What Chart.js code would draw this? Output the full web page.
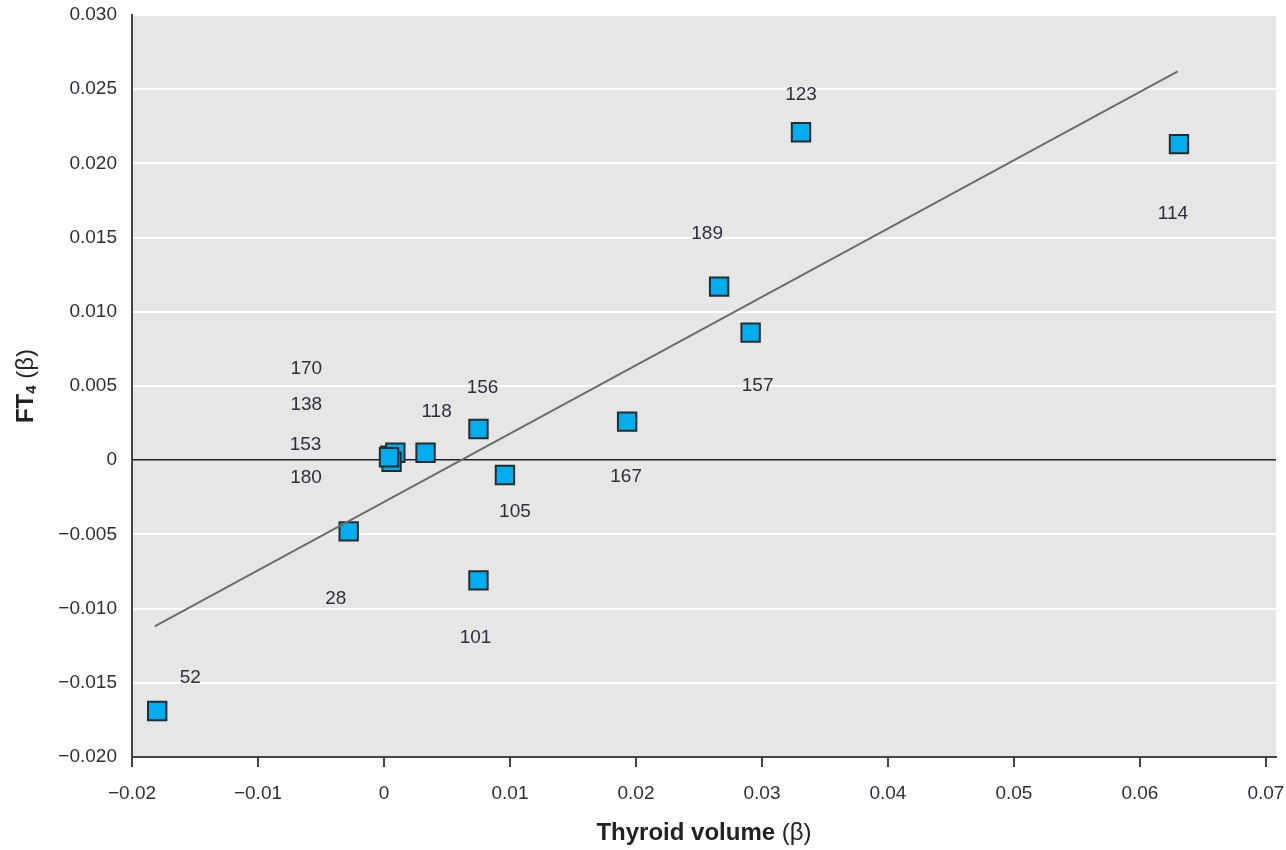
<!DOCTYPE html>
<html>
<head>
<meta charset="utf-8">
<script src="https://cdn.jsdelivr.net/npm/chart.js@4/dist/chart.umd.min.js"></script>
<style>
  html, body { margin: 0; padding: 0; background: #fff; overflow: hidden; }
  #wrap { width: 1291px; height: 850px; }
</style>
</head>
<body>
<div id="wrap"><canvas id="chart"></canvas></div>
<script>
// subject ids and their betas
const ids = ['52', '28', '101', '105', '156', '118', '170', '138', '153', '180', '167', '189', '157', '123', '114'];
const thyroidBeta = [-0.0180, -0.0028, 0.0075, 0.0096, 0.0075, 0.0033, 0.0005, 0.0009, 0.0006, 0.0004, 0.0193, 0.0266, 0.0291, 0.0331, 0.0631];
const ft4Beta = [-0.0169, -0.0048, -0.0081, -0.0010, 0.0021, 0.0005, 0.0003, 0.0005, -0.0001, 0.0002, 0.0026, 0.0117, 0.0086, 0.0221, 0.0213];

// fitted line end points
const fitX = [-0.0182, 0.0630];
const fitY = [-0.0112, 0.0262];

// where each id label sits relative to its marker (px)
const labelOffsets = [[33, -33], [-13, 67], [-3, 57], [10, 37], [4, -41], [11, -41], [-84, -87], [-89, -48], [-86, -17], [-83, 21], [-1, 55], [-12, -53], [7, 53], [0, -37], [-6, 70]];

const FONT = '"Liberation Sans Narrow", "Arial Narrow", "Liberation Sans", Arial, sans-serif';
const TEXT = '#2e2e3a';

function fmt(v, digits) {
    if (Math.abs(v) < 1e-9) return '0';
    const s = Math.abs(v).toFixed(digits);
    return v < 0 ? '\u2212' + s : s;
}

const bgPlugin = {
    id: 'bg',
    beforeDraw(chart) {
        const { ctx, chartArea: a } = chart;
        ctx.save();
        ctx.fillStyle = '#e6e6e6';
        ctx.fillRect(a.left, a.top, a.right - a.left, a.bottom - a.top);
        ctx.restore();
    }
};

const textPlugin = {
    id: 'texts',
    afterDatasetsDraw(chart) {
        const { ctx, chartArea: a } = chart;
        const meta = chart.getDatasetMeta(1);
        ctx.save();
        ctx.fillStyle = TEXT;
        ctx.font = '19px ' + FONT;
        ctx.textAlign = 'center';
        ctx.textBaseline = 'middle';
        meta.data.forEach((pt, i) => {
            ctx.fillText(ids[i], pt.x + labelOffsets[i][0], pt.y + labelOffsets[i][1]);
        });

        // x title
        ctx.fillStyle = '#222';
        const t1 = 'Thyroid volume ';
        ctx.font = 'bold 24px ' + FONT;
        const w1 = ctx.measureText(t1).width;
        ctx.font = '24px ' + FONT;
        const w2 = ctx.measureText('(\u03b2)').width;
        let x0 = (a.left + a.right) / 2 - (w1 + w2) / 2;
        ctx.textAlign = 'left';
        ctx.font = 'bold 24px ' + FONT;
        ctx.fillText(t1, x0, 833);
        ctx.font = '24px ' + FONT;
        ctx.fillText('(\u03b2)', x0 + w1, 833);

        // y title, rotated, with subscript
        ctx.translate(26, 386);
        ctx.rotate(-Math.PI / 2);
        ctx.font = 'bold 24px ' + FONT;
        const a1 = ctx.measureText('FT').width;
        ctx.font = 'bold 15px ' + FONT;
        const a2 = ctx.measureText('4').width;
        ctx.font = '24px ' + FONT;
        const a3 = ctx.measureText(' (\u03b2)').width;
        let y0 = -(a1 + a2 + a3) / 2;
        ctx.font = 'bold 24px ' + FONT;
        ctx.fillText('FT', y0, 0);
        ctx.font = 'bold 15px ' + FONT;
        ctx.fillText('4', y0 + a1, 6);
        ctx.font = '24px ' + FONT;
        ctx.fillText(' (\u03b2)', y0 + a1 + a2, 0);
        ctx.restore();
    }
};

new Chart(document.getElementById('chart'), {
    type: 'scatter',
    data: {
        datasets: [
            {
                type: 'line',
                data: fitX.map((x, i) => ({ x: x, y: fitY[i] })),
                borderColor: '#6a6a6a',
                borderWidth: 1.8,
                pointRadius: 0,
                fill: false
            },
            {
                data: thyroidBeta.map((x, i) => ({ x: x, y: ft4Beta[i] })),
                pointStyle: 'rect',
                pointRadius: 13,
                pointHoverRadius: 13,
                backgroundColor: '#00aeef',
                borderColor: '#2a2a2a',
                borderWidth: 2
            }
        ]
    },
    options: {
        responsive: true,
        maintainAspectRatio: false,
        animation: false,
        layout: { padding: { top: 15, right: 0, left: 0, bottom: 0 } },
        plugins: {
            legend: { display: false },
            tooltip: { enabled: false }
        },
        scales: {
            x: {
                type: 'linear',
                min: -0.02,
                max: 0.0708,
                afterFit(scale) {
                    scale.height = 93;
                    scale.paddingRight = 0;
                    scale.paddingLeft = 0;
                },
                border: { display: true, color: '#444', width: 2 },
                grid: { drawOnChartArea: false, drawTicks: true, tickLength: 10, color: '#444', lineWidth: 2 },
                ticks: {
                    stepSize: 0.01,
                    includeBounds: false,
                    padding: 15,
                    color: TEXT,
                    font: { family: FONT, size: 19 },
                    maxRotation: 0,
                    callback: v => fmt(v, 2)
                }
            },
            y: {
                type: 'linear',
                min: -0.02,
                max: 0.03,
                afterFit(scale) {
                    scale.width = 132;
                    scale.paddingTop = 0;
                    scale.paddingBottom = 0;
                },
                border: { display: true, color: '#444', width: 2 },
                grid: {
                    drawTicks: false,
                    color: ctx => Math.abs(ctx.tick.value) < 1e-9 ? '#222' : '#ffffff',
                    lineWidth: ctx => Math.abs(ctx.tick.value) < 1e-9 ? 1.5 : 2
                },
                ticks: {
                    stepSize: 0.005,
                    padding: 15,
                    color: TEXT,
                    font: { family: FONT, size: 19 },
                    callback: v => fmt(v, 3)
                }
            }
        }
    },
    plugins: [bgPlugin, textPlugin]
});
</script>
</body>
</html>
